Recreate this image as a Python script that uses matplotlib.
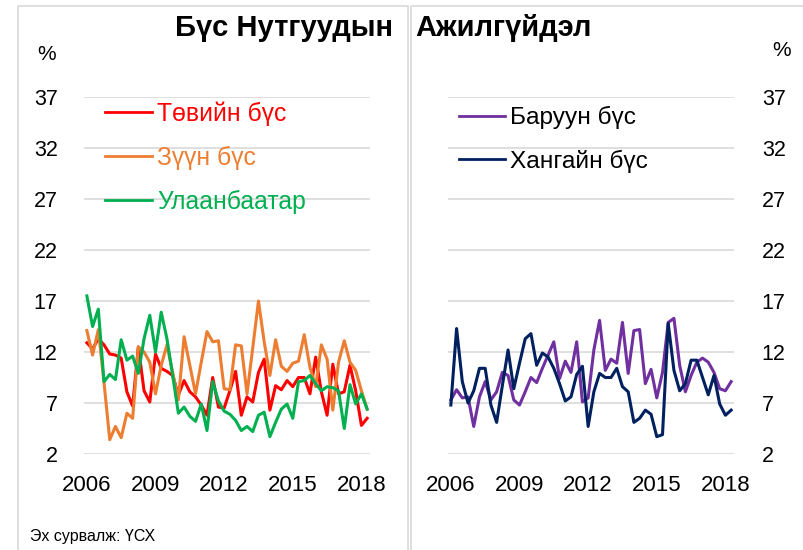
import matplotlib
matplotlib.use('Agg')
import matplotlib.pyplot as plt
from matplotlib.patches import Rectangle

plt.rcParams['font.family'] = ['Liberation Sans', 'DejaVu Sans']

# quarterly, 2006Q1 .. 2018Q2
year_ticks = [0, 12, 24, 36, 48]
year_labels = ['2006', '2009', '2012', '2015', '2018']

tuv = [12.9, 12.3, 13.3, 12.7, 11.8, 11.7, 11.4, 8.1, 6.7, 12.5,
       8.2, 7.1, 11.8, 10.4, 10.1, 9.7, 7.8, 9.2, 8.1, 7.6,
       6.8, 5.8, 9.5, 6.6, 6.5, 8.2, 10.1, 5.8, 7.6, 7.1,
       10.0, 11.3, 6.3, 8.7, 8.3, 9.2, 8.6, 9.5, 9.5, 7.9,
       11.5, 8.1, 5.8, 10.8, 7.9, 8.1, 10.7, 8.2, 4.8, 5.5]
zuun = [14.1, 11.7, 14.2, 9.0, 3.4, 4.7, 3.6, 6.0, 5.5, 12.5,
        12.0, 11.0, 7.9, 10.7, 12.7, 10.0, 7.3, 13.5, 10.7, 7.9,
        11.0, 14.0, 13.0, 13.1, 8.4, 8.3, 12.7, 12.6, 7.9, 12.4,
        17.0, 13.0, 9.7, 13.2, 10.6, 10.1, 10.9, 11.1, 13.7, 10.5,
        8.6, 12.7, 11.3, 6.3, 11.0, 13.1, 11.0, 10.2, 8.2, 6.4]
ub = [17.5, 14.5, 16.2, 9.1, 9.8, 9.3, 13.2, 11.2, 11.6, 9.9,
      13.3, 15.6, 12.0, 15.9, 13.3, 9.7, 6.0, 6.6, 5.7, 5.2,
      6.9, 4.3, 9.1, 7.2, 6.2, 5.9, 5.3, 4.3, 4.7, 4.2,
      5.8, 6.1, 3.7, 5.1, 6.4, 6.9, 5.5, 9.1, 9.2, 9.7,
      8.9, 8.2, 8.6, 8.5, 8.2, 4.5, 8.8, 6.9, 7.9, 6.4]
baruun = [7.3, 8.3, 7.5, 7.6, 4.7, 7.6, 9.1, 7.3, 8.1, 10.0,
          9.7, 7.3, 6.8, 8.1, 9.5, 9.0, 10.4, 11.7, 13.0, 9.4,
          11.1, 10.0, 13.0, 7.1, 7.5, 12.2, 15.1, 10.2, 11.3, 10.9,
          14.9, 9.9, 14.1, 14.2, 8.9, 10.3, 7.5, 10.0, 14.9, 15.3,
          10.7, 8.1, 9.7, 11.0, 11.4, 11.0, 10.0, 8.4, 8.2, 9.1]
khangai = [6.8, 14.3, 9.1, 7.0, 8.2, 10.4, 10.4, 6.8, 5.1, 8.7,
           12.2, 8.4, 10.9, 13.3, 13.8, 10.7, 11.9, 11.5, 10.4, 8.9,
           7.2, 7.6, 9.8, 10.6, 4.7, 8.1, 9.9, 9.5, 9.5, 10.4,
           8.6, 8.1, 5.1, 5.5, 6.3, 5.9, 3.7, 3.9, 14.8, 10.2,
           8.2, 8.9, 11.2, 11.2, 9.5, 7.8, 9.7, 6.9, 5.8, 6.3]

fig = plt.figure(figsize=(8.04, 5.5), dpi=100)

# panel frames
fig.patches.append(Rectangle((18 / 804, -0.01), 390 / 804, 1 - 6 / 550 + 0.01,
                             transform=fig.transFigure, fill=False,
                             ec='#D9D9D9', lw=1.2))
fig.patches.append(Rectangle((411 / 804, -0.01), 400 / 804, 1 - 6 / 550 + 0.01,
                             transform=fig.transFigure, fill=False,
                             ec='#D9D9D9', lw=1.2))

ax1 = fig.add_axes([84 / 804, 1 - 454 / 550, 286 / 804, 357 / 550])
ax2 = fig.add_axes([448 / 804, 1 - 454 / 550, 286 / 804, 357 / 550])

x = list(range(len(tuv)))

ax1.plot(x, tuv, color='#FF0000', lw=2.2, label='Төвийн бүс')
ax1.plot(x, zuun, color='#ED7D31', lw=2.2, label='Зүүн бүс')
ax1.plot(x, ub, color='#00B050', lw=2.2, label='Улаанбаатар')

ax2.plot(x, baruun, color='#7030A0', lw=2.2, label='Баруун бүс')
ax2.plot(x, khangai, color='#002060', lw=2.2, label='Хангайн бүс')

for ax in (ax1, ax2):
    ax.set_xlim(-0.5, len(x) - 0.5)
    ax.set_ylim(2, 37)
    ax.set_yticks(range(2, 38, 5))
    ax.set_xticks(year_ticks)
    ax.set_xticklabels(year_labels)
    ax.grid(axis='y', color='#D9D9D9', lw=1.2)
    ax.set_axisbelow(True)
    for s in ax.spines.values():
        s.set_visible(False)
    ax.tick_params(length=0, labelsize=15.5)
    ax.tick_params(axis='x', pad=15, labelsize=16)
    ax.set_facecolor('none')

ax1.tick_params(axis='y', pad=19)
ax2.yaxis.tick_right()
ax2.tick_params(axis='y', pad=20)

leg1 = ax1.legend(loc='upper left', bbox_to_anchor=(105 / 804, 1 - 101 / 550),
                  bbox_transform=fig.transFigure, frameon=False, fontsize=17.8,
                  handlelength=1.9, handletextpad=0.2, labelspacing=0.82,
                  borderpad=0, borderaxespad=0, labelcolor='linecolor')
leg2 = ax2.legend(loc='upper left', bbox_to_anchor=(459 / 804, 1 - 106 / 550),
                  bbox_transform=fig.transFigure, frameon=False, fontsize=17.6,
                  handlelength=1.9, handletextpad=0.2, labelspacing=0.84,
                  borderpad=0, borderaxespad=0)
for leg in (leg1, leg2):
    for line in leg.get_lines():
        line.set_linewidth(2)

fig.text(393 / 804, 1 - 28 / 550, 'Бүс Нутгуудын', ha='right', va='center',
         fontsize=21, fontweight='bold')
fig.text(415 / 804, 1 - 28 / 550, 'Ажилгүйдэл', ha='left', va='center',
         fontsize=21, fontweight='bold')
fig.text(47 / 804, 1 - 54 / 550, '%', ha='center', va='center', fontsize=15)
fig.text(782 / 804, 1 - 50 / 550, '%', ha='center', va='center', fontsize=15)
fig.text(30 / 804, 1 - 537 / 550, 'Эх сурвалж: ҮСХ', ha='left', va='center',
         fontsize=11.5)

fig.savefig('out.png', dpi=100)
